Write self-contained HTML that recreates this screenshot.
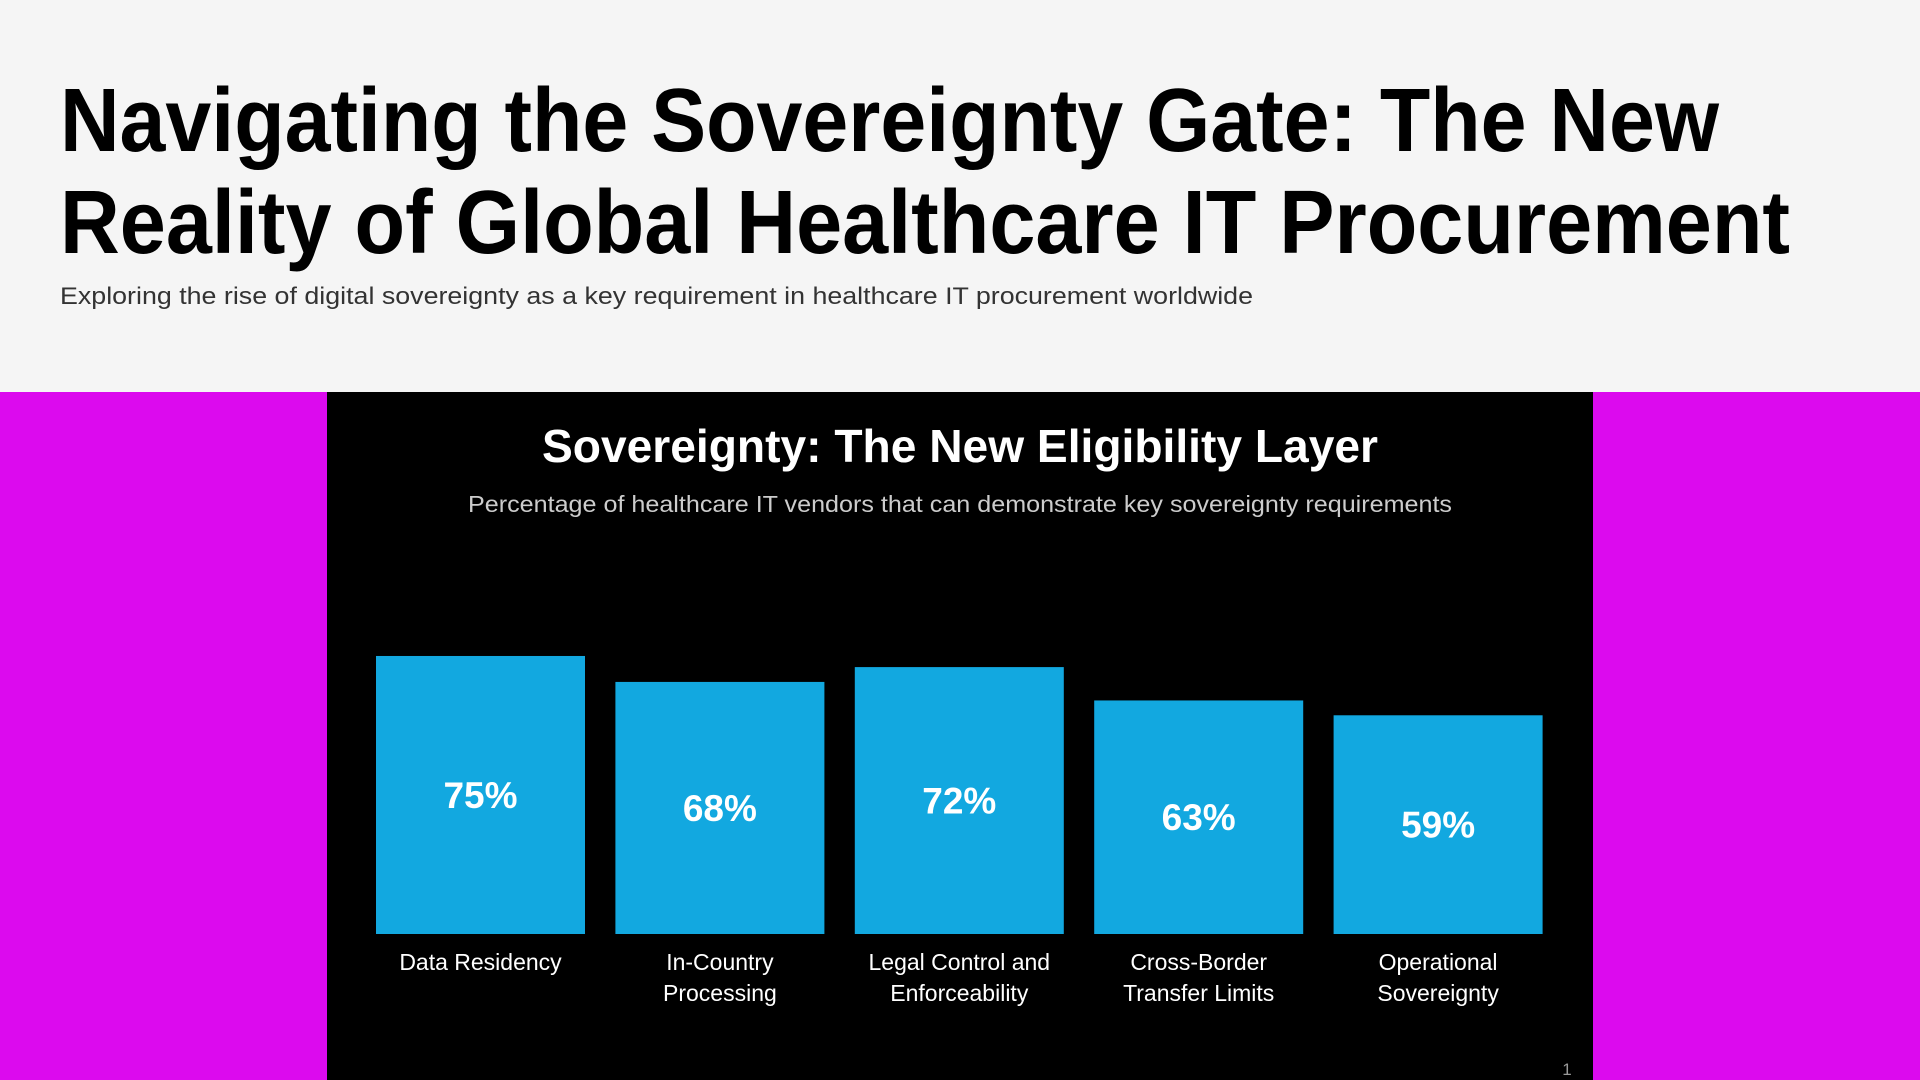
<!DOCTYPE html>
<html><head><meta charset="utf-8">
<style>
html,body{margin:0;padding:0;width:1920px;height:1080px;overflow:hidden;background:#f5f5f5;font-family:"Liberation Sans",sans-serif;}
.fit{position:absolute;white-space:nowrap;transform-origin:0 0;}
#h1a,#h1b{font-weight:bold;font-size:90px;color:#000;left:60px;}
#sub{font-size:24px;color:#333;left:60px;}
#left{position:absolute;left:0;top:392px;width:327px;height:688px;background:#dc0aee;}
#right{position:absolute;left:1593px;top:392px;width:327px;height:688px;background:#dc0aee;}
#panel{position:absolute;left:327px;top:392px;width:1266px;height:688px;background:#000;}
</style></head><body>
<div class="fit" id="h1a" style="top:70px">Navigating the Sovereignty Gate: The New</div>
<div class="fit" id="h1b" style="top:172px">Reality of Global Healthcare IT Procurement</div>
<div class="fit" id="sub" style="top:283px">Exploring the rise of digital sovereignty as a key requirement in healthcare IT procurement worldwide</div>
<div id="left"></div>
<div id="right"></div>
<div id="panel"></div>
<svg id="chart" width="1920" height="1080" style="position:absolute;left:0;top:0">
<text x="960" y="462" text-anchor="middle" fill="#fff" font-weight="bold" font-size="46" textLength="836" lengthAdjust="spacingAndGlyphs">Sovereignty: The New Eligibility Layer</text>
<text x="960" y="512" text-anchor="middle" fill="#cccccc" font-size="23" textLength="984" lengthAdjust="spacingAndGlyphs">Percentage of healthcare IT vendors that can demonstrate key sovereignty requirements</text>
<text x="1567" y="1075" text-anchor="middle" fill="#999" font-size="17">1</text>
<g id="bars"></g>
</svg>
<script>
const categories=[["Data Residency"],["In-Country","Processing"],["Legal Control and","Enforceability"],["Cross-Border","Transfer Limits"],["Operational","Sovereignty"]];
const values=[75,68,72,63,59];
const valueLabels=["75%","68%","72%","63%","59%"];

function fit(id,w){const e=document.getElementById(id);const r=e.getBoundingClientRect().width;e.style.transform='scaleX('+(w/r)+')';}
fit('h1a',1659);fit('h1b',1730);fit('sub',1193);

const NS='http://www.w3.org/2000/svg';
const baseY=934, pxPer=3.707, x0=376, step=239.4, bw=209;
function xPos(i){return x0+i*step;}
function yPos(v){return baseY-v*pxPer;}
const g=document.getElementById('bars');
values.forEach((v,i)=>{
  const r=document.createElementNS(NS,'rect');
  
  
  r.setAttribute('x',xPos(i));r.setAttribute('y',yPos(v));
  r.setAttribute('width',bw);r.setAttribute('height',baseY-yPos(v));
  r.setAttribute('fill','#12a8e0');g.appendChild(r);
  const t=document.createElementNS(NS,'text');
  
  
  t.setAttribute('x',xPos(i)+bw/2);t.setAttribute('y',(yPos(v)+baseY)/2+13);
  t.setAttribute('text-anchor','middle');t.setAttribute('fill','#fff');
  t.setAttribute('font-weight','bold');t.setAttribute('font-size','37');
  t.textContent=valueLabels[i];g.appendChild(t);
  categories[i].forEach((line,j)=>{
    const c=document.createElementNS(NS,'text');
    
    
    c.setAttribute('x',xPos(i)+bw/2);c.setAttribute('y',970+j*31);
    c.setAttribute('text-anchor','middle');c.setAttribute('fill','#fff');
    c.setAttribute('font-size','23');
    c.textContent=line;g.appendChild(c);
  });
});
</script>
</body></html>
